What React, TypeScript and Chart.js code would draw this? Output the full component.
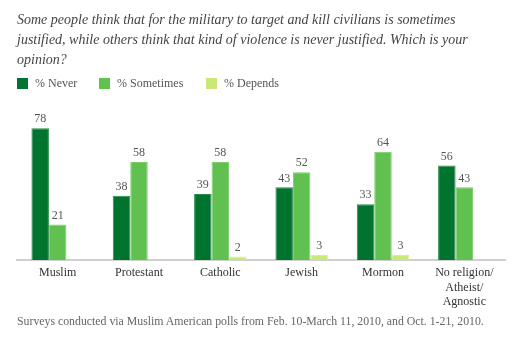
import React, { useEffect, useRef } from "react";
import { Chart, registerables } from "chart.js";

Chart.register(...registerables);

const categories: (string | string[])[] = [
  "Muslim",
  "Protestant",
  "Catholic",
  "Jewish",
  "Mormon",
  ["No religion/", "Atheist/", "Agnostic"],
];
const neverValues: (number | null)[] = [78, 38, 39, 43, 33, 56];
const sometimesValues: (number | null)[] = [21, 58, 58, 52, 64, 43];
const dependsValues: (number | null)[] = [null, null, 2, 3, 3, null];

const seriesNames = ["% Never", "% Sometimes", "% Depends"];
const seriesColors = ["#00732e", "#60c050", "#c8e878"];
const seriesBorders = ["#2a8a48", "#7ccc6a", "#d6ee98"];

const titleLines = [
  "Some people think that for the military to target and kill civilians is sometimes",
  "justified, while others think that kind of violence is never justified. Which is your",
  "opinion?",
];
const footerText =
  "Surveys conducted via Muslim American polls from Feb. 10-March 11, 2010, and Oct. 1-21, 2010.";

const SERIF = "'Liberation Serif', 'DejaVu Serif', serif";
const legendLeft = [17, 99, 206];

const valueLabels = {
  id: "valueLabels",
  afterDatasetsDraw(chart: any) {
    const ctx = chart.ctx;
    ctx.save();
    ctx.font = `12px ${SERIF}`;
    ctx.fillStyle = "#555";
    ctx.textAlign = "center";
    ctx.textBaseline = "bottom";
    chart.data.datasets.forEach((ds: any, i: number) => {
      const meta = chart.getDatasetMeta(i);
      meta.data.forEach((el: any, j: number) => {
        const v = ds.data[j];
        if (v === null || v === undefined) return;
        ctx.fillText(String(v), el.x, el.y - 3);
      });
    });
    ctx.restore();
  },
};

export default function App() {
  const ref = useRef<HTMLCanvasElement | null>(null);

  useEffect(() => {
    document.body.style.margin = "0";
    const dataArrays = [neverValues, sometimesValues, dependsValues];
    const chart = new Chart(ref.current as HTMLCanvasElement, {
      type: "bar",
      data: {
        labels: categories,
        datasets: dataArrays.map((d, i) => ({
          label: seriesNames[i],
          data: d,
          backgroundColor: seriesColors[i],
          borderColor: seriesBorders[i],
          borderWidth: 1,
          barPercentage: 1,
          categoryPercentage: 0.645,
        })),
      },
      options: {
        animation: false,
        responsive: false,
        maintainAspectRatio: false,
        layout: { padding: { top: 100, left: 17, right: 15, bottom: 0 } },
        plugins: {
          legend: { display: false },
          title: { display: false },
          tooltip: { enabled: false },
        },
        scales: {
          y: {
            display: false,
            min: 0,
            max: 94.7,
          },
          x: {
            grid: { display: false, drawTicks: false },
            border: { display: true, color: "#cfcfcf", width: 2 },
            ticks: {
              color: "#333",
              font: { family: SERIF, size: 12 },
              padding: 6,
              maxRotation: 0,
              autoSkip: false,
            },
            afterFit(scale: any) {
              scale.height = 85;
            },
          },
        },
      },
      plugins: [valueLabels],
    });
    return () => chart.destroy();
  }, []);

  return (
    <div style={{ position: "relative", width: 520, height: 345, background: "#fff" }}>
      <canvas ref={ref} width={520} height={345} style={{ position: "absolute", left: 0, top: 0 }} />
      <div
        style={{
          position: "absolute",
          left: 17,
          top: 10,
          fontFamily: SERIF,
          fontStyle: "italic",
          fontSize: 14,
          lineHeight: "20px",
          color: "#444",
          whiteSpace: "nowrap",
        }}
      >
        {titleLines.map((l, i) => (
          <div key={i}>{l}</div>
        ))}
      </div>
      {seriesNames.map((n, i) => (
        <div
          key={i}
          style={{
            position: "absolute",
            left: legendLeft[i],
            top: 76,
            display: "flex",
            alignItems: "center",
            fontFamily: SERIF,
            fontSize: 12,
            color: "#555",
            whiteSpace: "nowrap",
          }}
        >
          <span style={{ display: "inline-block", width: 11, height: 11, background: seriesColors[i], marginRight: 7 }} />
          <span>{n}</span>
        </div>
      ))}
      <div
        style={{
          position: "absolute",
          left: 17,
          top: 314,
          fontFamily: SERIF,
          fontSize: 11.8,
          color: "#666",
          whiteSpace: "nowrap",
        }}
      >
        {footerText}
      </div>
    </div>
  );
}
